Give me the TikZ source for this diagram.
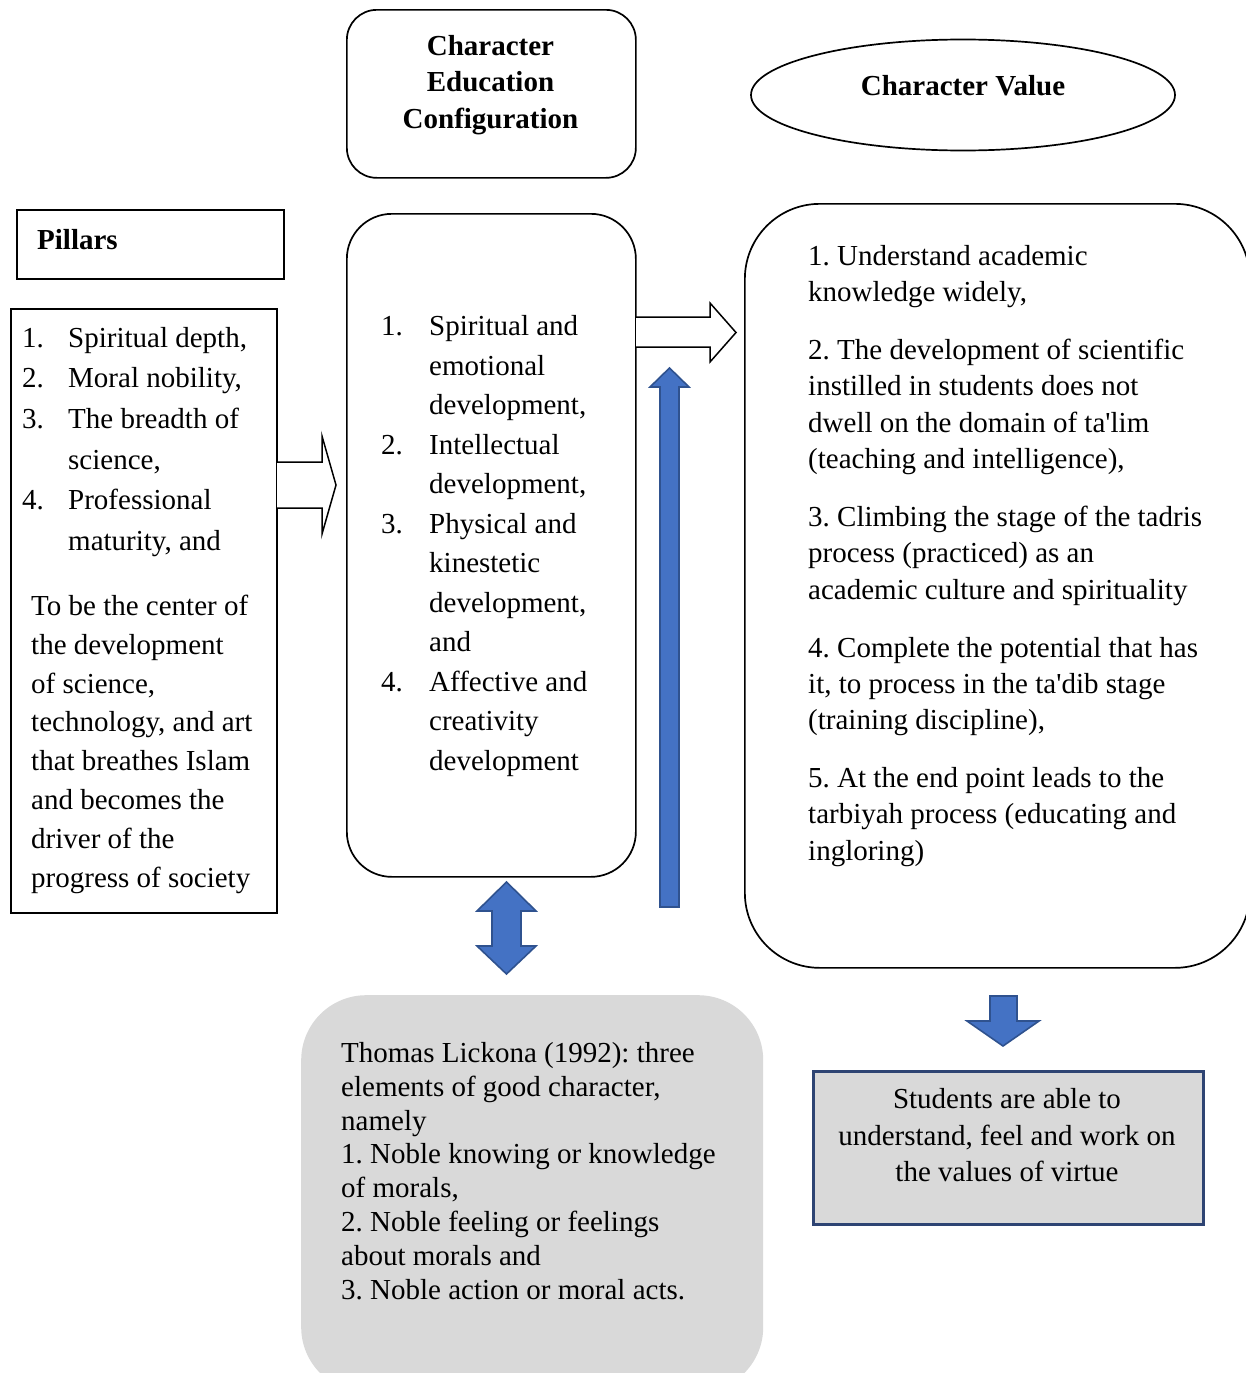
\documentclass[tikz,border=0pt]{standalone}
\usepackage{fontspec}
\setmainfont{Liberation Serif}
\usetikzlibrary{shapes.geometric}
\definecolor{blueF}{HTML}{4472C4}
\definecolor{blueD}{HTML}{2F528F}
\definecolor{grayF}{HTML}{D9D9D9}
\definecolor{navyB}{HTML}{2E4473}
\tikzset{
 box/.style={draw, line width=1.7pt, inner sep=0pt, anchor=north west},
 txt/.style={inner sep=0pt, anchor=north west, align=left},
 hollow/.style={draw, line width=1.5pt, fill=white, line join=miter},
 blockarrow/.style={draw=blueD, fill=blueF, line width=1.6pt, line join=miter},
}
\newcommand{\fsz}[1]{\fontsize{29}{#1}\selectfont\frenchspacing}
\newcommand{\itma}[1]{\makebox[46pt][l]{#1}}
\newcommand{\itmb}[1]{\makebox[48pt][l]{#1}}
\newcommand{\apo}{\textquotesingle}
\begin{document}
\begin{tikzpicture}[x=1pt,y=-1pt]
\clip (0,0) rectangle (1246,1373);
\fill[white] (0,0) rectangle (1246,1373);

% Character Education Configuration
\node[box, minimum width=289pt, minimum height=168pt, rounded corners=30pt] (cfg) at (346,9) {};
\node[inner sep=0pt, anchor=north, align=center, font=\fsz{36.5}\bfseries] (cfgt) at (490.5,29.5) {\strut Character\\Education\\Configuration};

% Character Value ellipse
\node[draw, ellipse, line width=1.7pt, minimum width=424pt, minimum height=111pt, inner sep=0pt] (cv) at (963,95) {};
\node[inner sep=0pt, anchor=base, font=\fsz{36}\bfseries] (cvt) at (963,95) {Character Value};

% Pillars
\node[box, minimum width=267pt, minimum height=69pt] (pil) at (16,209) {};
\node[inner sep=0pt, anchor=base west, font=\fsz{36}\bfseries] (pilt) at (37,249) {Pillars};

% Pillars list
\node[box, minimum width=266pt, minimum height=604pt] (pl) at (10,308) {};
\node[txt, font=\fsz{40.6}] (plt) at (22,318.6) {\strut\itma{1.}Spiritual depth,\\\itma{2.}Moral nobility,\\\itma{3.}The breadth of\\\hspace*{46pt}science,\\\itma{4.}Professional\\\hspace*{46pt}maturity, and};
\node[txt, font=\fsz{38.9}] (plp) at (31,587.8) {\strut To be the center of\\the development\\of science,\\technology, and art\\that breathes Islam\\and becomes the\\driver of the\\progress of society};

% Centre box
\node[box, minimum width=289pt, minimum height=663pt, rounded corners=45pt] (cb) at (346,213) {};
\node[txt, font=\fsz{39.5}] (cbt) at (381,308) {\strut\itmb{1.}Spiritual and\\\hspace*{48pt}emotional\\\hspace*{48pt}development,\\\itmb{2.}Intellectual\\\hspace*{48pt}development,\\\itmb{3.}Physical and\\\hspace*{48pt}kinestetic\\\hspace*{48pt}development,\\\hspace*{48pt}and\\\itmb{4.}Affective and\\\hspace*{48pt}creativity\\\hspace*{48pt}development};

% Right box
\node[box, minimum width=505pt, minimum height=764pt, rounded corners=75pt] (rb) at (744,203) {};
\node[txt, font=\fsz{36.3}] (rbt) at (808,239.6) {\strut 1. Understand academic\\knowledge widely,\\[21.7pt]2. The development of scientific\\instilled in students does not\\dwell on the domain of ta\apo lim\\(teaching and intelligence),\\[21.7pt]3. Climbing the stage of the tadris\\process (practiced) as an\\academic culture and spirituality\\[21.7pt]4. Complete the potential that has\\it, to process in the ta\apo dib stage\\(training discipline),\\[21.7pt]5. At the end point leads to the\\tarbiyah process (educating and\\ingloring)};

% Grey box (Lickona)
\node[fill=grayF, inner sep=0pt, anchor=north west, minimum width=462pt, minimum height=397pt, rounded corners=65pt] (gb) at (301,995) {};
\node[txt, font=\fsz{33.9}] (gbt) at (341,1038.3) {\strut Thomas Lickona (1992): three\\elements of good character,\\namely\\1. Noble knowing or knowledge\\of morals,\\2. Noble feeling or feelings\\about morals and\\3. Noble action or moral acts.};

% Students box
\node[draw=navyB, fill=grayF, line width=2.5pt, inner sep=0pt, anchor=north west, minimum width=390pt, minimum height=153pt] (sb) at (812,1070) {};
\node[inner sep=0pt, anchor=north, align=center, font=\fsz{36.5}] (sbt) at (1007,1083) {\strut Students are able to\\understand, feel and work on\\the values of virtue};

% Hollow arrows
\draw[hollow] (277,462) -- (322,462) -- (322,436) -- (336,485) -- (322,534) -- (322,508) -- (277,508);
\draw[hollow] (636,317) -- (710,317) -- (710,303) -- (736,332.5) -- (710,362) -- (710,347) -- (636,347);

% Blue arrows
\draw[blockarrow] (660,907) -- (660,387) -- (650,387) -- (669.5,368) -- (689,387) -- (679,387) -- (679,907) -- cycle;
\draw[blockarrow] (506.5,882) -- (536,911) -- (521,911) -- (521,946) -- (536,946) -- (506.5,974) -- (477,946) -- (492,946) -- (492,911) -- (477,911) -- cycle;
\draw[blockarrow] (990,996) -- (1017,996) -- (1017,1021) -- (1039,1021) -- (1003,1046) -- (967,1021) -- (990,1021) -- cycle;
\end{tikzpicture}
\end{document}
